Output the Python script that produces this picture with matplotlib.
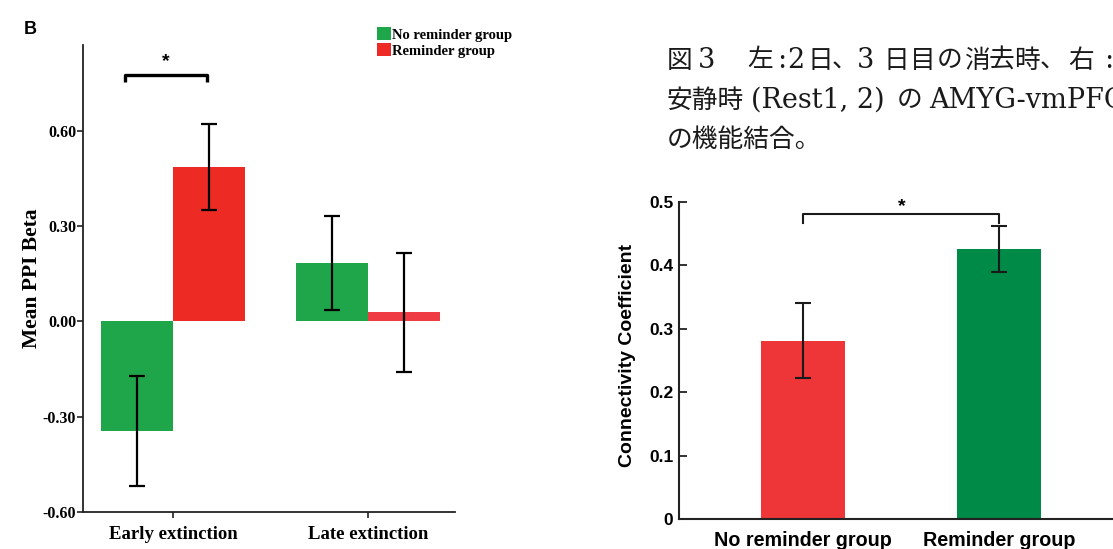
import matplotlib
matplotlib.use("Agg")
import matplotlib.pyplot as plt
import numpy as np

# ---------------- data ----------------
left_categories = ["Early extinction", "Late extinction"]
left_groups = ["No reminder group", "Reminder group"]
no_reminder_vals = [-0.345, 0.185]
no_reminder_err = [0.172, 0.148]
reminder_vals = [0.485, 0.028]
reminder_err = [0.135, 0.188]
left_yticks = [-0.60, -0.30, 0.00, 0.30, 0.60]
left_ytick_labels = ["-0.60", "-0.30", "0.00", "0.30", "0.60"]

right_categories = ["No reminder group", "Reminder group"]
right_vals = [0.281, 0.426]
right_err = [0.059, 0.036]
right_yticks = [0, 0.1, 0.2, 0.3, 0.4, 0.5]
right_ytick_labels = ["0", "0.1", "0.2", "0.3", "0.4", "0.5"]

# caption (justified first line: glyph centres in px)
caption_line1 = [(680, "図", "j"), (707, "3", "l"), (760, "左", "j"), (782, ":", "l"),
                 (796, "2", "l"), (820, "日", "j"), (845, "、", "j"), (866, "3", "l"),
                 (896, "日", "j"), (923, "目", "j"), (950, "の", "j"), (977, "消", "j"),
                 (1002, "去", "j"), (1027, "時", "j"), (1053, "、", "j"), (1081, "右", "j"),
                 (1109, ":", "l")]
# lines 2 and 3: left edges in px
caption_line2 = [(667, "安静時", "j"), (751, "(Rest1, 2)", "l"), (897, "の", "j"),
                 (929, "AMYG-vmPFC", "l")]
caption_line3 = [(667, "の機能結合。", "j")]

# ---------------- style ----------------
GREEN_L = "#1fa64a"
RED_L = "#ee2a25"
RED_L2 = "#ef3b44"
RED_R = "#ee3538"
GREEN_R = "#008a47"
SERIF = "Liberation Serif"
SANS = "Liberation Sans"
CJK = ["Noto Sans CJK JP", "DejaVu Sans"]

W, H = 1113, 549
fig = plt.figure(figsize=(W / 100, H / 100), dpi=100)

def fx(px):
    return px / W

def fy(py):
    return 1 - py / H

# ---------------- left panel ----------------
axL = fig.add_axes([fx(83), fy(512), fx(455) - fx(83), fy(45) - fy(512)])
x = np.arange(len(left_categories))
bw = 0.369
b1 = axL.bar(x, no_reminder_vals, width=-bw, align="edge", color=GREEN_L,
             label=left_groups[0], zorder=2)
b2 = axL.bar(x, reminder_vals, width=bw, align="edge", color=[RED_L, RED_L2],
             label=left_groups[1], zorder=2)
axL.errorbar(x - bw / 2, no_reminder_vals, yerr=no_reminder_err, fmt="none",
             ecolor="black", elinewidth=1.6, capsize=6, capthick=1.6, zorder=3)
axL.errorbar(x + bw / 2, reminder_vals, yerr=reminder_err, fmt="none",
             ecolor="black", elinewidth=1.6, capsize=6, capthick=1.6, zorder=3)
axL.set_xlim(-0.4615, 1.446)
axL.set_ylim(-0.60, 0.87)
axL.set_yticks(left_yticks)
axL.set_yticklabels(left_ytick_labels)
axL.set_xticks(x)
axL.set_xticklabels(left_categories)
for s in ["top", "right"]:
    axL.spines[s].set_visible(False)
for s in ["left", "bottom"]:
    axL.spines[s].set_linewidth(1.3)
    axL.spines[s].set_color("#222222")
axL.tick_params(axis="both", direction="out", length=4, width=1.2, color="#222222")
for lab in axL.get_yticklabels():
    lab.set_fontfamily(SERIF); lab.set_fontweight("bold"); lab.set_fontsize(11.5)
for lab in axL.get_xticklabels():
    lab.set_fontfamily(SERIF); lab.set_fontweight("bold"); lab.set_fontsize(13.5)
axL.tick_params(axis="x", pad=6)
axL.tick_params(axis="y", pad=1)
fig.text(fx(32), fy(278), "Mean PPI Beta", rotation=90, ha="center", va="center",
         fontfamily=SERIF, fontweight="bold", fontsize=15.5)
# significance bracket
bx0, bx1, by, bd = -0.246, 0.174, 0.774, 0.022
axL.plot([bx0, bx0, bx1, bx1], [by - bd, by, by, by - bd], color="black", lw=2.4,
         solid_capstyle="butt", clip_on=False, zorder=4)
axL.text((bx0 + bx1) / 2 - 0.003, by + 0.045, "*", ha="center", va="center",
         fontsize=14, fontweight="bold", fontfamily=SANS)
leg = axL.legend(handles=[b1, b2], labels=left_groups, loc="upper left",
                 bbox_to_anchor=(fx(377), fy(27)), bbox_transform=fig.transFigure,
                 frameon=False, handlelength=0.95, handleheight=1.0,
                 handletextpad=0.1, labelspacing=0.1, borderpad=0, borderaxespad=0,
                 prop={"family": SERIF, "weight": "bold", "size": 10.5})
fig.text(fx(30), fy(29), "B", ha="center", va="center", fontsize=13,
         fontweight="bold", fontfamily=SANS)

# ---------------- right panel ----------------
axR = fig.add_axes([fx(679), fy(519), 1 - fx(679), fy(202) - fy(519)])
xr = np.arange(len(right_categories))
axR.bar(xr, right_vals, width=0.43, color=[RED_R, GREEN_R], zorder=2)
axR.errorbar(xr, right_vals, yerr=right_err, fmt="none", ecolor="#1a1a1a",
             elinewidth=1.5, capsize=6, capthick=1.5, zorder=3)
axR.set_xlim(-0.633, 1.582)
axR.set_ylim(0, 0.5)
axR.set_yticks(right_yticks)
axR.set_yticklabels(right_ytick_labels)
axR.set_xticks(xr)
axR.set_xticklabels(right_categories)
for s in ["top", "right"]:
    axR.spines[s].set_visible(False)
for s in ["left", "bottom"]:
    axR.spines[s].set_linewidth(1.5)
    axR.spines[s].set_color("#222222")
axR.tick_params(axis="y", direction="in", length=6, width=1.3, color="#222222", pad=4)
axR.tick_params(axis="x", length=0, pad=9)
for lab in axR.get_yticklabels():
    lab.set_fontfamily(SANS); lab.set_fontweight("bold"); lab.set_fontsize(12.5)
for lab in axR.get_xticklabels():
    lab.set_fontfamily(SANS); lab.set_fontweight("bold"); lab.set_fontsize(14.2)
fig.text(fx(627), fy(355), "Connectivity Coefficient", rotation=90, ha="center",
         va="center", fontfamily=SANS, fontweight="bold", fontsize=14)
rx0, rx1, ry, rd = 0.0, 1.0, 0.481, 0.014
axR.plot([rx0, rx0, rx1, rx1], [ry - rd, ry, ry, ry - rd], color="#1a1a1a", lw=1.5,
         clip_on=False, zorder=4)
axR.text(0.505, ry + 0.012, "*", ha="center", va="center", fontsize=14,
         fontweight="bold", fontfamily=SANS)

# ---------------- caption ----------------
CJK_SIZE = 18.5
LAT_SIZE = 19.5
TXT_COLOR = "#1a1a1a"

def put(xpx, base, txt, kind, ha):
    if kind == "j":
        fig.text(fx(xpx), fy(base), txt, ha=ha, va="baseline", fontsize=CJK_SIZE,
                 family=CJK, color=TXT_COLOR)
    else:
        fig.text(fx(xpx), fy(base), txt, ha=ha, va="baseline", fontsize=LAT_SIZE,
                 family="DejaVu Serif", color=TXT_COLOR)

for xpx, txt, kind in caption_line1:
    put(xpx, 67.5, txt, kind, "center")
for xpx, txt, kind in caption_line2:
    put(xpx, 107.5, txt, kind, "left")
for xpx, txt, kind in caption_line3:
    put(xpx, 146.5, txt, kind, "left")

fig.savefig("out.png", dpi=100)
